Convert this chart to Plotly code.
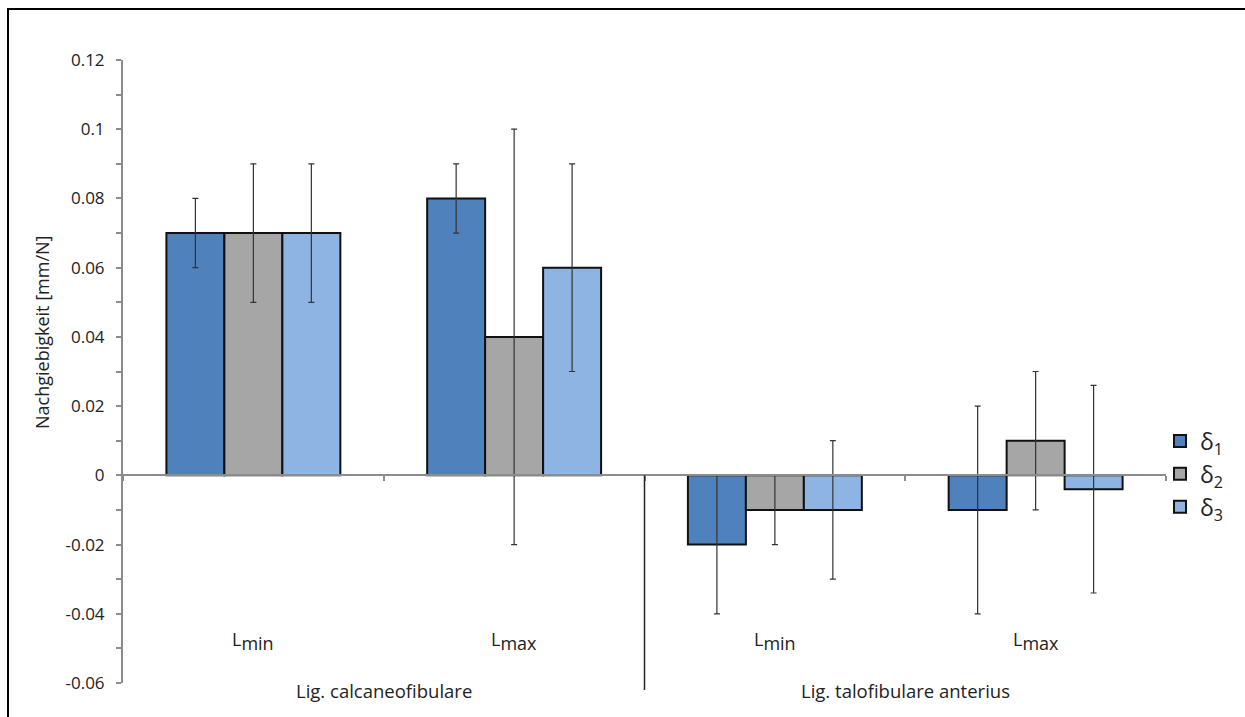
import plotly.graph_objects as go

categories = ["c1_min", "c1_max", "c2_min", "c2_max"]
cat_labels = ["L<sub><span style='font-size:18px'>min</span></sub>",
              "L<sub><span style='font-size:18px'>max</span></sub>",
              "L<sub><span style='font-size:18px'>min</span></sub>",
              "L<sub><span style='font-size:18px'>max</span></sub>"]
group_labels = ["Lig. calcaneofibulare", "Lig. talofibulare anterius"]
series_names = ["δ<sub>1</sub>", "δ<sub>2</sub>", "δ<sub>3</sub>"]

delta1 = [0.07, 0.08, -0.02, -0.01]
delta2 = [0.07, 0.04, -0.01, 0.01]
delta3 = [0.07, 0.06, -0.01, -0.004]
err1 = [0.01, 0.01, 0.02, 0.03]
err2 = [0.02, 0.06, 0.01, 0.02]
err3 = [0.02, 0.03, 0.02, 0.03]

y_tickvals = [-0.06, -0.04, -0.02, 0, 0.02, 0.04, 0.06, 0.08, 0.1, 0.12]
y_ticktext = ["-0.06", "-0.04", "-0.02", "0", "0.02", "0.04", "0.06", "0.08", "0.1", "0.12"]

colors = ["#4F81BD", "#A6A6A6", "#8EB4E3"]

W, H = 1245, 717
L, R, T, B = 123, 1166, 60, 683
def px_x(p):
    return (p - L) / (R - L)
def px_y(p):
    return (B - p) / (B - T)

FONT = "Open Sans"
TXT = "#222222"

fig = go.Figure()
for name, vals, errs, col in zip(series_names, [delta1, delta2, delta3], [err1, err2, err3], colors):
    fig.add_trace(go.Bar(
        x=categories, y=vals, name=name,
        marker=dict(color=col, line=dict(color="#111111", width=2)),
        error_y=dict(type="data", array=errs, visible=True, color="#333333", thickness=1.2, width=3),
    ))

ymin, ymax = -0.06, 0.12
zero_frac = (0 - ymin) / (ymax - ymin)

fig.update_layout(
    width=W, height=H,
    margin=dict(l=L, r=W - R, t=T, b=H - B, pad=0),
    paper_bgcolor="white", plot_bgcolor="white",
    barmode="group", bargap=0.333, bargroupgap=0,
    font=dict(family=FONT, size=17, color=TXT),
    showlegend=True,
    legend=dict(x=px_x(1160), y=px_y(474), xanchor="left", yanchor="middle",
                font=dict(family=FONT, size=23, color=TXT),
                tracegroupgap=0, itemwidth=30, bgcolor="rgba(0,0,0,0)"),
    xaxis=dict(
        type="category", showticklabels=False, showgrid=False, zeroline=False,
        showline=True, linecolor="#8C8C8C", linewidth=2,
        ticks="outside", tickson="boundaries", ticklen=5, tickcolor="#8C8C8C", tickwidth=1.5,
        anchor="free", position=zero_frac, range=[-0.5, 3.5],
    ),
    yaxis=dict(
        range=[ymin, ymax], tickvals=y_tickvals, ticktext=y_ticktext,
        showgrid=False, zeroline=False, showline=True, linecolor="#8C8C8C", linewidth=2,
        ticks="outside", ticklen=5, tickcolor="#8C8C8C", tickwidth=1.5,
        minor=dict(dtick=0.01, ticks="outside", ticklen=5, tickcolor="#8C8C8C", tickwidth=1.5, showgrid=False),
        tickfont=dict(family=FONT, size=17, color=TXT),
        ticklabelstandoff=8,
    ),
)

annotations = []
for i, lab in enumerate(cat_labels):
    annotations.append(dict(x=categories[i], y=px_y(641), xref="x", yref="paper",
                            text=lab, showarrow=False, xanchor="center", yanchor="middle",
                            font=dict(family=FONT, size=18, color=TXT)))
annotations.append(dict(x=0.5, y=px_y(690), xref="x", yref="paper", text=group_labels[0],
                        showarrow=False, xanchor="center", yanchor="middle",
                        font=dict(family=FONT, size=18.5, color=TXT)))
annotations.append(dict(x=2.5, y=px_y(690), xref="x", yref="paper", text=group_labels[1],
                        showarrow=False, xanchor="center", yanchor="middle",
                        font=dict(family=FONT, size=18.5, color=TXT)))
annotations.append(dict(x=px_x(42), y=px_y(332), xref="paper", yref="paper",
                        text="Nachgiebigkeit [mm/N]", textangle=-90, showarrow=False,
                        xanchor="center", yanchor="middle",
                        font=dict(family=FONT, size=18, color=TXT)))
fig.update_layout(annotations=annotations)

shapes = [
    dict(type="line", xref="x", yref="paper", x0=1.5, x1=1.5, y0=zero_frac, y1=px_y(690),
         line=dict(color="#222222", width=1.5)),
    dict(type="rect", xref="paper", yref="paper", x0=px_x(8), x1=px_x(1300), y0=px_y(9), y1=px_y(760),
         line=dict(color="black", width=2), fillcolor="rgba(0,0,0,0)", layer="below"),
]
fig.update_layout(shapes=shapes)

fig.write_html("out.html")
